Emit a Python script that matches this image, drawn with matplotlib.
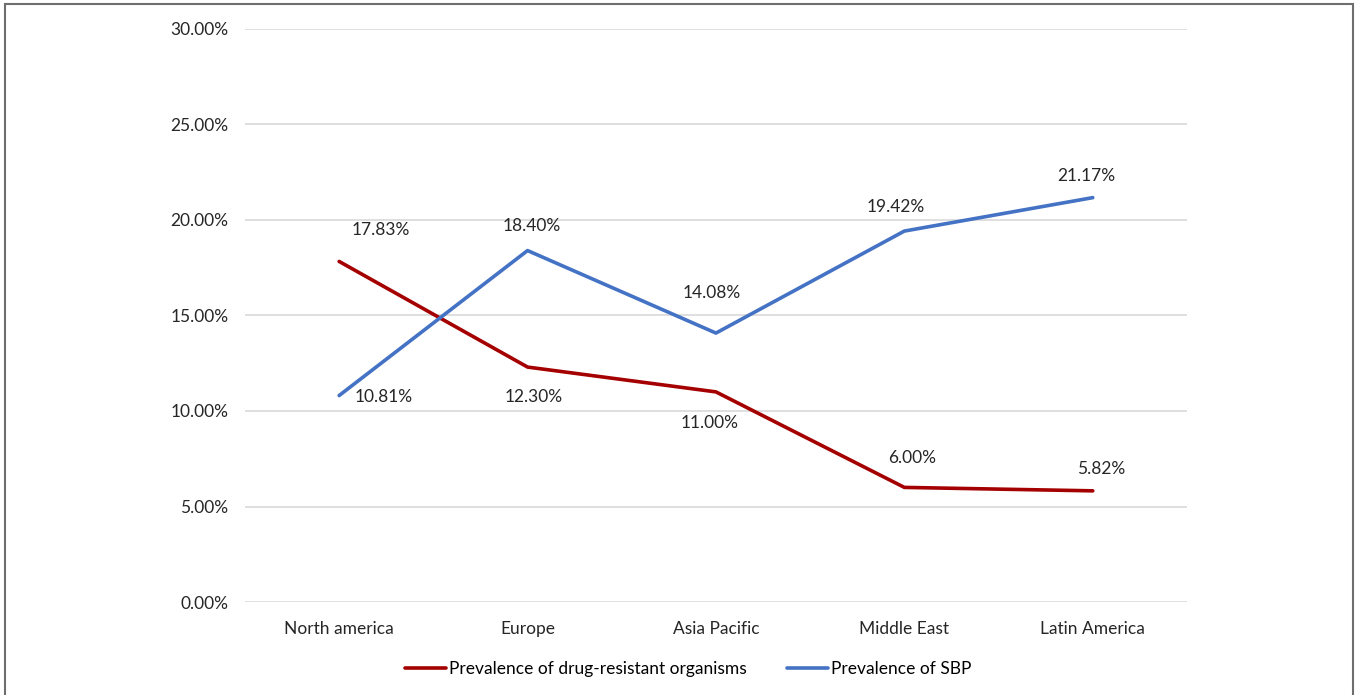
import matplotlib.pyplot as plt
from matplotlib.ticker import FuncFormatter
from matplotlib.patches import Rectangle

plt.rcParams['font.family'] = ['Lato', 'DejaVu Sans']

regions = ['North america', 'Europe', 'Asia Pacific', 'Middle East', 'Latin America']
drug_resistant = [17.83, 12.30, 11.00, 6.00, 5.82]
sbp = [10.81, 18.40, 14.08, 19.42, 21.17]

# label offsets in pixels (x, y) relative to the point
red_offsets = [(42, 31), (6, -30), (-6, -31), (8, 29), (8, 22)]
blue_offsets = [(45, -1), (4, 25), (-4, 40), (-9, 24), (-6, 22)]

fs = 12.5
fig = plt.figure(figsize=(13.57, 6.95), dpi=100)
ax = fig.add_axes([0.1805, 0.1338, 0.6942, 0.8245])

x = range(len(regions))
red_col = '#A50000'
blue_col = '#4472C4'
ax.plot(x, drug_resistant, color=red_col, lw=2.6, label='Prevalence of drug-resistant organisms',
        solid_capstyle='round', zorder=3)
ax.plot(x, sbp, color=blue_col, lw=2.6, label='Prevalence of SBP',
        solid_capstyle='round', zorder=3)

for i, v in enumerate(drug_resistant):
    ax.annotate('%.2f%%' % v, (i, v), xytext=red_offsets[i], textcoords='offset pixels',
                ha='center', va='center', fontsize=fs, color='#262626')
for i, v in enumerate(sbp):
    ax.annotate('%.2f%%' % v, (i, v), xytext=blue_offsets[i], textcoords='offset pixels',
                ha='center', va='center', fontsize=fs, color='#262626')

ax.set_xlim(-0.5, len(regions) - 0.5)
ax.set_ylim(0, 30)
ax.set_yticks([0, 5, 10, 15, 20, 25, 30])
ax.yaxis.set_major_formatter(FuncFormatter(lambda v, p: '%.2f%%' % v))
ax.set_xticks(list(x))
ax.set_xticklabels(regions)
ax.tick_params(length=0, labelsize=fs, labelcolor='#262626')
ax.tick_params(axis='y', pad=12)
ax.tick_params(axis='x', pad=14)
ax.grid(axis='y', color='#D9D9D9', lw=1.2)
ax.set_axisbelow(True)
for s in ax.spines.values():
    s.set_visible(False)

fig.legend(loc='center', bbox_to_anchor=(0.507, 0.037), ncol=2, frameon=False,
           fontsize=fs, handlelength=2.4, handletextpad=0.15, columnspacing=2.3)

fig.patches.append(Rectangle((5 / 1357, -0.01), 1348 / 1357, 1.0042, transform=fig.transFigure,
                             fill=False, edgecolor='#6E6E6E', lw=1.5))

fig.savefig('out.png', dpi=100)
